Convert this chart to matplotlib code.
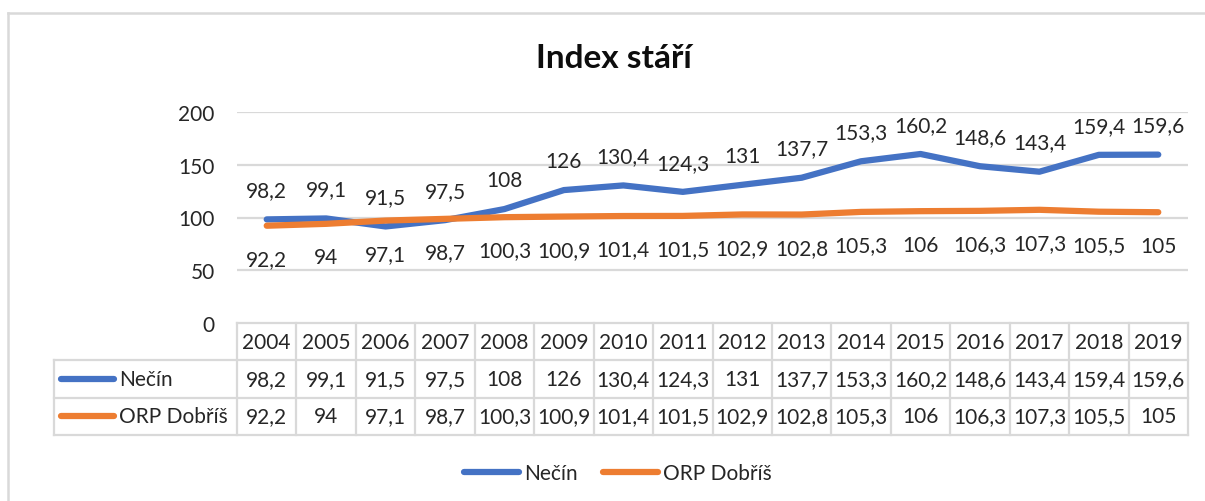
import matplotlib
matplotlib.use("Agg")
import matplotlib.pyplot as plt
from matplotlib.lines import Line2D

years = ["2004", "2005", "2006", "2007", "2008", "2009", "2010", "2011",
         "2012", "2013", "2014", "2015", "2016", "2017", "2018", "2019"]
necin = [98.2, 99.1, 91.5, 97.5, 108, 126, 130.4, 124.3, 131, 137.7,
         153.3, 160.2, 148.6, 143.4, 159.4, 159.6]
dobris = [92.2, 94, 97.1, 98.7, 100.3, 100.9, 101.4, 101.5, 102.9, 102.8,
          105.3, 106, 106.3, 107.3, 105.5, 105]
series_names = ["Nečín", "ORP Dobříš"]
title = "Index stáří"
yticks = [0, 50, 100, 150, 200]

W, H = 1205, 502
BLUE = "#4472C4"
ORANGE = "#ED7D31"
GRID = "#D9D9D9"
TXT = "#262626"
FS = 15
plt.rcParams['font.family'] = ['Lato', 'DejaVu Sans']

def fx(x):
    return x / W

def fy(y):
    return 1 - y / H

fig = plt.figure(figsize=(W / 100, H / 100), dpi=100)

# outer border (top and left visible)
fig.add_artist(Line2D([fx(8), fx(1205)], [fy(14), fy(14)], color=GRID, lw=1.8))
fig.add_artist(Line2D([fx(8), fx(8)], [fy(14), fy(502)], color=GRID, lw=1.8))

fig.text(fx(614), fy(59), title, ha="center", va="center",
         fontsize=24, fontweight="bold", color="#0D0D0D")

# main plot
L, R, T, B = 237, 1188, 113, 324
ax = fig.add_axes([fx(L), fy(B), (R - L) / W, (B - T) / H])
n = len(years)
xs = list(range(n))
ax.set_xlim(-0.5, n - 0.5)
ax.set_ylim(0, 200)
for s in ax.spines.values():
    s.set_visible(False)
ax.set_xticks([])
ax.set_yticks(yticks)
ax.set_yticklabels([str(v) for v in yticks], fontsize=FS, color=TXT)
ax.tick_params(axis="y", length=0, pad=16)
for v in yticks[1:]:
    ax.axhline(v, color=GRID, lw=1.6, zorder=0)

l1, = ax.plot(xs, necin, color=BLUE, lw=4.5, solid_capstyle="round",
              solid_joinstyle="round", label=series_names[0], zorder=3)
l2, = ax.plot(xs, dobris, color=ORANGE, lw=4.5, solid_capstyle="round",
              solid_joinstyle="round", label=series_names[1], zorder=3)

def fmt(v):
    s = ("%g" % v)
    return s.replace(".", ",")

for x, v in zip(xs, necin):
    ax.annotate(fmt(v), (x, v), xytext=(0, 21), textcoords="offset points",
                ha="center", va="center", fontsize=FS, color=TXT)
for x, v in zip(xs, dobris):
    ax.annotate(fmt(v), (x, v), xytext=(0, -24), textcoords="offset points",
                ha="center", va="center", fontsize=FS, color=TXT)

# data table
TL, TB = 54, 436
colw = (R - L) / n
x0 = -0.5 - (L - TL) / colw
tax = fig.add_axes([fx(TL), fy(TB), (R - TL) / W, (TB - B) / H])
tax.set_xlim(x0, n - 0.5)
tax.set_ylim(3, 0)
tax.axis("off")
lw_t = 1.6
tax.plot([-0.5, n - 0.5], [0, 0], color=GRID, lw=lw_t, clip_on=False)
for yy in (1, 2, 3):
    tax.plot([x0, n - 0.5], [yy, yy], color=GRID, lw=lw_t, clip_on=False)
for k in range(n + 1):
    tax.plot([-0.5 + k, -0.5 + k], [0, 3], color=GRID, lw=lw_t, clip_on=False)
tax.plot([x0, x0], [1, 3], color=GRID, lw=lw_t, clip_on=False)

for i, yv in enumerate(years):
    tax.text(i, 0.5, yv, ha="center", va="center", fontsize=FS, color=TXT)
for i, v in enumerate(necin):
    tax.text(i, 1.5, fmt(v), ha="center", va="center", fontsize=FS, color=TXT)
for i, v in enumerate(dobris):
    tax.text(i, 2.5, fmt(v), ha="center", va="center", fontsize=FS, color=TXT)

def pxx(px):
    return x0 + (px - TL) / colw

for row, (name, col) in enumerate(zip(series_names, [BLUE, ORANGE]), start=1):
    tax.plot([pxx(61), pxx(114)], [row + 0.5, row + 0.5], color=col, lw=4.5,
             solid_capstyle="round", clip_on=False)
    tax.text(pxx(119), row + 0.5, name, ha="left", va="center",
             fontsize=FS, color=TXT)

fig.legend(handles=[l1, l2], loc="center", bbox_to_anchor=(fx(618), fy(474)),
           ncol=2, frameon=False, fontsize=FS, handlelength=2.65,
           handletextpad=0.25, columnspacing=1.2, labelcolor=TXT)

fig.savefig("out.png", dpi=100)
